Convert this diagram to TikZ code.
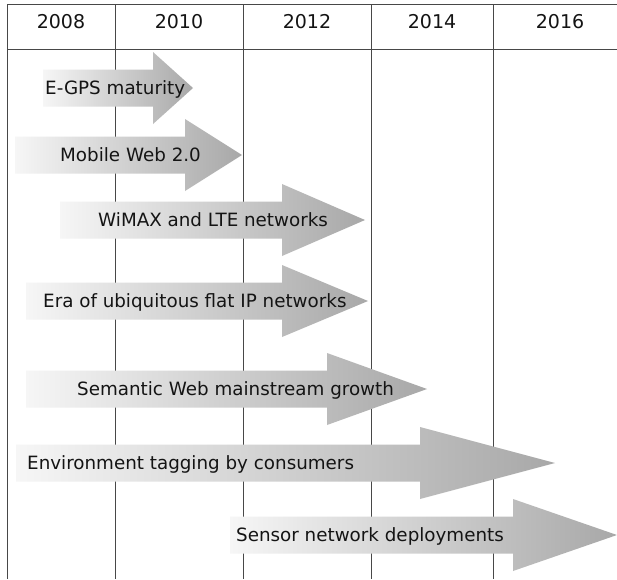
\documentclass[tikz,border=0pt]{standalone}
\usepackage{fontspec}
\setmainfont{DejaVu Sans}
\usepackage{xcolor}
\usepackage{tikz}
\definecolor{gridgray}{RGB}{72,72,72}
\definecolor{bandgray}{RGB}{168,168,168}
\definecolor{bandlight}{RGB}{246,246,246}
\definecolor{inkgray}{RGB}{20,20,20}

\begin{document}
\begin{tikzpicture}[x=1pt,y=-1pt,
  grid/.style={gridgray,line width=1pt},
  band/.style={left color=bandlight,right color=bandgray},
  year/.style={inkgray,anchor=base,inner sep=0pt,font=\fontsize{19}{21}\selectfont},
  label/.style={inkgray,anchor=base west,inner sep=0pt,font=\fontsize{18.3}{20}\selectfont}]
\useasboundingbox[fill=white] (0,0) rectangle (617,579);
% table frame
\draw[grid] (7,4) -- (617,4);
\draw[grid] (7,49) -- (617,49);
\draw[grid] (7,4) -- (7,579);
\draw[grid] (115,4) -- (115,579);
\draw[grid] (243,4) -- (243,579);
\draw[grid] (371,4) -- (371,579);
\draw[grid] (493,4) -- (493,579);
\node[year] (y2008) at (61,28) {2008};
\node[year] (y2010) at (179,28) {2010};
\node[year] (y2012) at (307,28) {2012};
\node[year] (y2014) at (432,28) {2014};
\node[year] (y2016) at (560,28) {2016};
% bands
\shade[band] (43,69.5) -- (153,69.5) -- (153,52) -- (193,88) -- (153,124) -- (153,106.5) -- (43,106.5) -- cycle;
\shade[band] (15,136.5) -- (185,136.5) -- (185,119) -- (242,155) -- (185,191) -- (185,173.5) -- (15,173.5) -- cycle;
\shade[band] (60,201.5) -- (282,201.5) -- (282,184) -- (365,220) -- (282,256) -- (282,238.5) -- (60,238.5) -- cycle;
\shade[band] (26,282.5) -- (282,282.5) -- (282,265) -- (368,301) -- (282,337) -- (282,319.5) -- (26,319.5) -- cycle;
\shade[band] (26,370.5) -- (327,370.5) -- (327,353) -- (427,389) -- (327,425) -- (327,407.5) -- (26,407.5) -- cycle;
\shade[band] (16,444.5) -- (420,444.5) -- (420,427) -- (555,463) -- (420,499) -- (420,481.5) -- (16,481.5) -- cycle;
\shade[band] (230,516.5) -- (513,516.5) -- (513,499) -- (617,535) -- (513,571) -- (513,553.5) -- (230,553.5) -- cycle;
% band texts
\node[label] (gps) at (45,94) {E-GPS maturity};
\node[label] (mobile) at (60,161) {Mobile Web 2.0};
\node[label] (wimax) at (98,226) {WiMAX and LTE networks};
\node[label] (flatip) at (43,307) {Era of ubiquitous flat IP networks};
\node[label] (semweb) at (77,395) {Semantic Web mainstream growth};
\node[label] (tagging) at (27,469) {Environment tagging by consumers};
\node[label] (sensor) at (236,541) {Sensor network deployments};
\end{tikzpicture}
\end{document}
